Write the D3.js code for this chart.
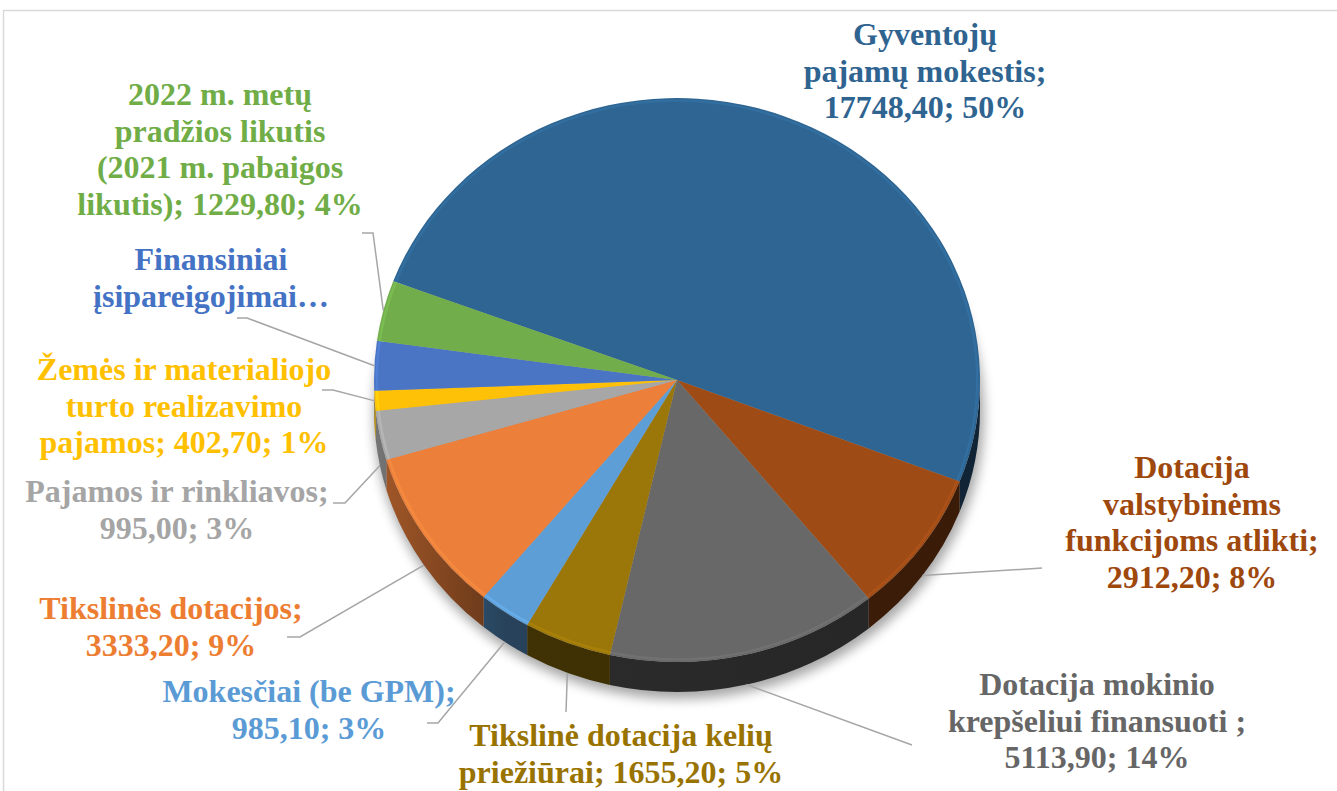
<!DOCTYPE html>
<html lang="lt">
<head>
    <meta charset="UTF-8">
    <title>Pajamos</title>
    <script src="https://d3js.org/d3.v7.min.js"></script>
    <style>
        body { margin: 0; background: #fff; }
        .lbl { font-family: "Liberation Serif", "Times New Roman", serif; font-weight: bold; font-size: 32px; }
    </style>
</head>
<body>
<svg id="chart" width="1337" height="791"></svg>
<script>
    // data
    const categories = [
        "Gyventojų pajamų mokestis",
        "Dotacija valstybinėms funkcijoms atlikti",
        "Dotacija mokinio krepšeliui finansuoti",
        "Tikslinė dotacija kelių priežiūrai",
        "Mokesčiai (be GPM)",
        "Tikslinės dotacijos",
        "Pajamos ir rinkliavos",
        "Žemės ir materialiojo turto realizavimo pajamos",
        "Finansiniai įsipareigojimai",
        "2022 m. metų pradžios likutis (2021 m. pabaigos likutis)"
    ];
    const values = [17748.40, 2912.20, 5113.90, 1655.20, 985.10, 3333.20, 995.00, 402.70, 1000.00, 1229.80];
    const percents = ["50%", "8%", "14%", "5%", "3%", "9%", "3%", "1%", "3%", "4%"];
    const labelLines = [
        ["Gyventojų", "pajamų mokestis;", "17748,40; 50%"],
        ["Dotacija", "valstybinėms", "funkcijoms atlikti;", "2912,20; 8%"],
        ["Dotacija mokinio", "krepšeliui finansuoti ;", "5113,90; 14%"],
        ["Tikslinė dotacija kelių", "priežiūrai; 1655,20; 5%"],
        ["Mokesčiai (be GPM);", "985,10; 3%"],
        ["Tikslinės dotacijos;", "3333,20; 9%"],
        ["Pajamos ir rinkliavos;", "995,00; 3%"],
        ["Žemės ir materialiojo", "turto realizavimo", "pajamos; 402,70; 1%"],
        ["Finansiniai", "įsipareigojimai…"],
        ["2022 m. metų", "pradžios likutis", "(2021 m. pabaigos", "likutis); 1229,80; 4%"]
    ];
    const colors = ["#2e6592", "#9e4b16", "#686868", "#9b7609", "#5e9ed6",
                    "#ec7f3a", "#a7a7a7", "#ffc107", "#4a75c4", "#72ad4c"];
    const textColors = ["#2f6491", "#9e480e", "#666666", "#997300", "#5b9bd5",
                        "#ed7d31", "#a5a5a5", "#ffc000", "#4472c4", "#70ad47"];

    // label layout: centre x, first baseline, leader path points, anchor on side (1) or top edge (0)
    const labelLayout = [
        { x: 925, y: 45, leader: null },
        { x: 1192, y: 478, leader: [[1042, 568]], side: 1 },
        { x: 1097, y: 695, leader: [[912, 745]], side: 1 },
        { x: 621, y: 746, leader: [[566, 712]], side: 1 },
        { x: 309, y: 702, leader: [[438, 723], [427, 723]], side: 1 },
        { x: 171, y: 619, leader: [[300, 637], [287, 637]], side: 1 },
        { x: 177, y: 502, leader: [[345, 503], [333, 503]], side: 1 },
        { x: 184, y: 380, leader: [[333, 390], [322, 390]], side: 0 },
        { x: 211, y: 270, leader: [[247, 318], [237, 318]], side: 0 },
        { x: 220, y: 105, leader: [[373, 233], [362, 233]], side: 0 }
    ];

    const width = 1337, height = 791;
    const cx = 677, cy = 380, rx = 303, ry = 282, depth = 30;
    const lineH = 36.5;
    const start = 290.5 * Math.PI / 180;
    const sy = ry / rx;
    const D = depth / sy;

    const svg = d3.select("#chart");
    const defs = svg.append("defs");

    // chart frame
    svg.append("rect")
        .attr("x", 3.5).attr("y", 10.5)
        .attr("width", 1400).attr("height", 900)
        .attr("fill", "none").attr("stroke", "#d9d9d9").attr("stroke-width", 1.5);

    const pie = d3.pie().sort(null).value(d => d)
        .startAngle(start).endAngle(start + 2 * Math.PI);
    const arcs = pie(values);

    const proj = (a, dz) => [cx + rx * Math.sin(a), cy - ry * Math.cos(a) + dz];

    // soft shadow
    const blur = defs.append("filter").attr("id", "shadow")
        .attr("x", "-20%").attr("y", "-20%").attr("width", "140%").attr("height", "140%");
    blur.append("feGaussianBlur").attr("stdDeviation", 6);
    const sh = svg.append("g").attr("filter", "url(#shadow)").attr("opacity", 0.35);
    sh.append("ellipse").attr("cx", cx + 2).attr("cy", cy + depth + 5).attr("rx", rx + 2).attr("ry", ry + 2).attr("fill", "#000");

    const g = svg.append("g").attr("transform", `translate(${cx},${cy}) scale(1,${sy})`);

    // side walls (front half only)
    const windows = [[Math.PI / 2, 1.5 * Math.PI], [2.5 * Math.PI, 3.5 * Math.PI]];
    arcs.forEach((d, i) => {
        const base = d3.color(colors[i]);
        const grad = defs.append("linearGradient").attr("id", "side" + i)
            .attr("gradientUnits", "userSpaceOnUse")
            .attr("x1", -rx).attr("x2", rx).attr("y1", 0).attr("y2", 0);
        const mul = k => d3.rgb(base.r * k, base.g * k, base.b * k);
        grad.append("stop").attr("offset", 0).attr("stop-color", mul(0.7));
        grad.append("stop").attr("offset", 0.22).attr("stop-color", mul(0.42));
        grad.append("stop").attr("offset", 1).attr("stop-color", mul(0.36));
        windows.forEach(([w0, w1]) => {
            const a0 = Math.max(d.startAngle, w0), a1 = Math.min(d.endAngle, w1);
            if (a1 <= a0) return;
            const p = d3.path();
            p.arc(0, 0, rx, a0 - Math.PI / 2, a1 - Math.PI / 2, false);
            p.lineTo(rx * Math.cos(a1 - Math.PI / 2), rx * Math.sin(a1 - Math.PI / 2) + D);
            p.arc(0, D, rx, a1 - Math.PI / 2, a0 - Math.PI / 2, true);
            p.closePath();
            g.append("path").attr("d", p.toString()).attr("fill", `url(#side${i})`);
        });
    });

    // top faces
    const arc = d3.arc().innerRadius(0).outerRadius(rx);
    g.selectAll("path.slice")
        .data(arcs)
        .join("path")
        .attr("class", "slice")
        .attr("d", arc)
        .attr("fill", (d, i) => colors[i]);

    // light bevel along the rim
    const rim = d3.arc().innerRadius(rx - 4).outerRadius(rx - 1.5);
    g.selectAll("path.rim")
        .data(arcs)
        .join("path")
        .attr("class", "rim")
        .attr("d", rim)
        .attr("fill", (d, i) => d3.color(colors[i]).brighter(0.5))
        .attr("opacity", 0.45);

    // leader lines
    arcs.forEach((d, i) => {
        const L = labelLayout[i];
        if (!L.leader) return;
        const mid = (d.startAngle + d.endAngle) / 2;
        const pts = [proj(mid, L.side * depth)].concat(L.leader);
        svg.append("path")
            .attr("d", d3.line()(pts))
            .attr("fill", "none")
            .attr("stroke", "#a6a6a6")
            .attr("stroke-width", 1.5);
    });

    // labels
    labelLines.forEach((lines, i) => {
        const L = labelLayout[i];
        const t = svg.append("text")
            .attr("class", "lbl")
            .attr("text-anchor", "middle")
            .attr("fill", textColors[i]);
        lines.forEach((s, j) => {
            t.append("tspan").attr("x", L.x).attr("y", L.y + j * lineH).text(s);
        });
    });
</script>
</body>
</html>
